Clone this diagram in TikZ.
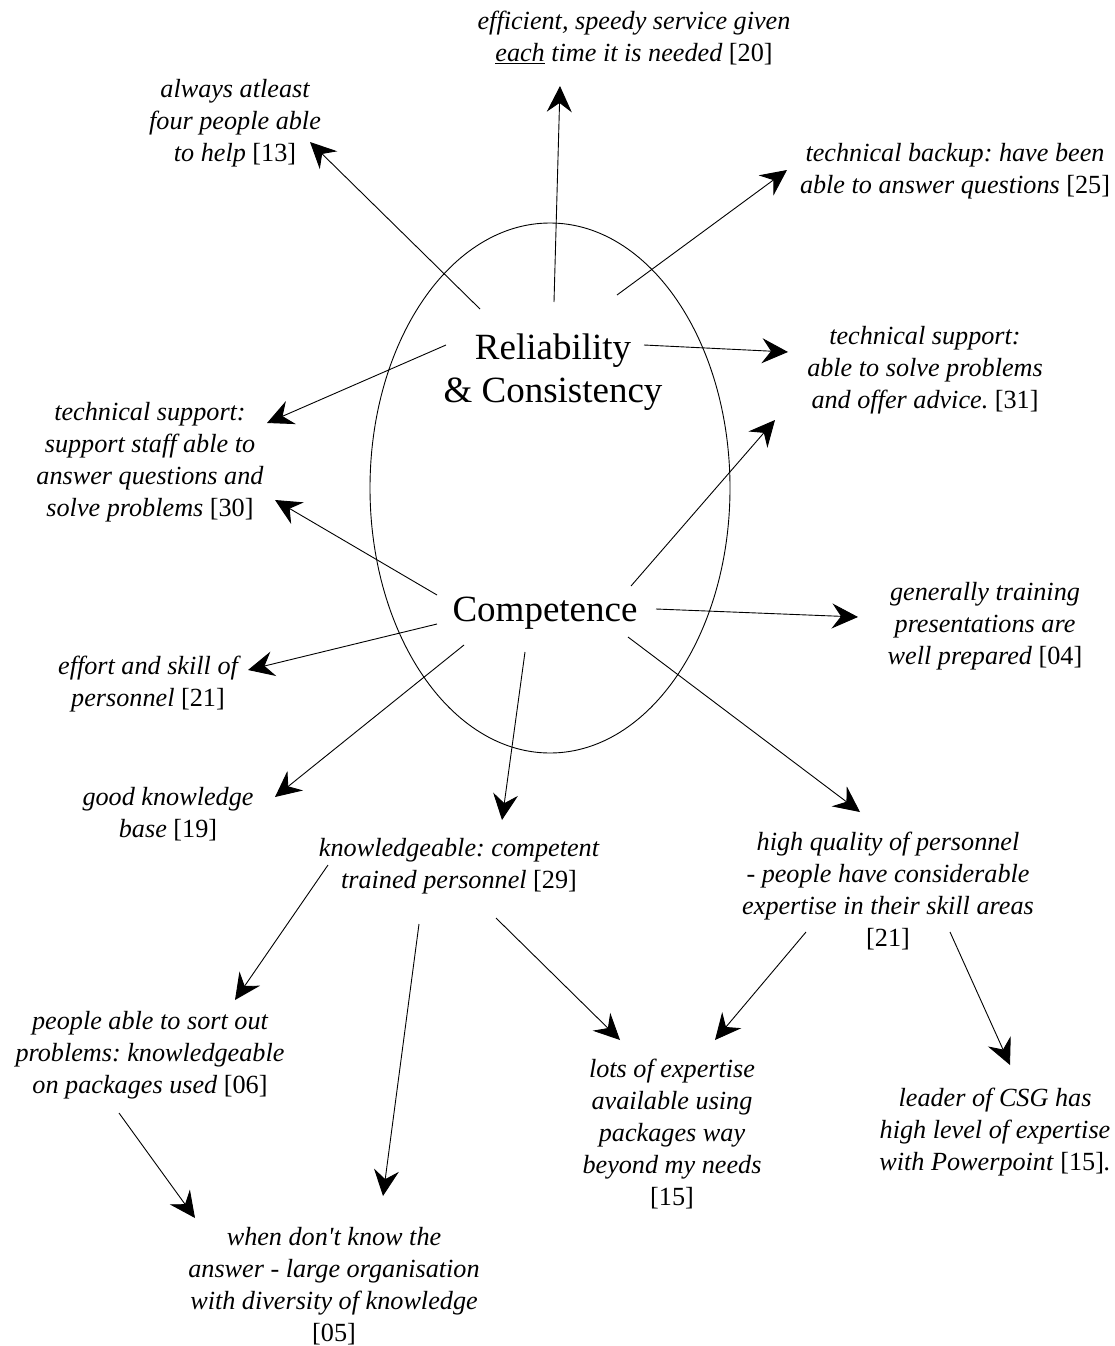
\documentclass[tikz,border=0pt]{standalone}
\usepackage{fontspec}
\setmainfont{Liberation Serif}
\usetikzlibrary{arrows.meta}
\newcommand{\srcno}[1]{\textup{[#1]}}
\frenchspacing
\begin{document}
\begin{tikzpicture}[x=1pt,y=-1pt,
  lbl/.style={align=center,inner sep=0pt,font=\fontsize{26.2}{32}\selectfont\itshape},
  core/.style={align=center,inner sep=0pt,font=\fontsize{37}{43}\selectfont},
  arr/.style={line width=0.9pt,-{Stealth[length=26pt,width=25pt,inset=9pt]}}]
\useasboundingbox (0,0) rectangle (1115,1346);

% central oval with the two core qualities
\draw[line width=0.9pt] (550,488) ellipse [x radius=180, y radius=265];
\node[core] (rel)  at (553,372) {Reliability\\\& Consistency};
\node[core] (comp) at (545,613) {Competence};

% descriptive statements
\node[lbl] (t13)  at (235,123)  {always atleast\\four people able\\to help \srcno{13}};
\node[lbl] (t20)  at (634,38)   {efficient, speedy service given\\\underline{each} time it is needed \srcno{20}};
\node[lbl] (t25)  at (955,171)  {technical backup: have been\\able to answer questions \srcno{25}};
\node[lbl] (t31)  at (925,370)  {technical support:\\able to solve problems\\and offer advice. \srcno{31}};
\node[lbl] (t30)  at (150,462)  {technical support:\\support staff able to\\answer questions and\\solve problems \srcno{30}};
\node[lbl] (t04)  at (985,626)  {generally training\\presentations are\\well prepared \srcno{04}};
\node[lbl] (t21a) at (148,684)  {effort and skill of\\personnel \srcno{21}};
\node[lbl] (t19)  at (168,814)  {good knowledge\\base \srcno{19}};
\node[lbl] (t29)  at (459,866)  {knowledgeable: competent\\trained personnel \srcno{29}};
\node[lbl] (t21b) at (888,891)  {high quality of personnel\\- people have considerable\\expertise in their skill areas\\\srcno{21}};
\node[lbl] (t06)  at (150,1055) {people able to sort out\\problems: knowledgeable\\on packages used \srcno{06}};
\node[lbl] (t05)  at (334,1286) {when don\textquotesingle t know the\\answer - large organisation\\with diversity of knowledge\\\srcno{05}};
\node[lbl] (t15a) at (672,1134) {lots of expertise\\available using\\packages way\\beyond my needs\\\srcno{15}};
\node[lbl] (t15b) at (995,1132) {leader of CSG has\\high level of expertise\\with Powerpoint \srcno{15}.};

% links from Reliability & Consistency
\draw[arr] ([shift={(-73,-63)}]rel.center)  -- ([shift={(75,19)}]t13.center);
\draw[arr] ([shift={(1,-70)}]rel.center)    -- ([shift={(-74,48)}]t20.center);
\draw[arr] ([shift={(64,-77)}]rel.center)   -- ([shift={(-168,-1)}]t25.center);
\draw[arr] ([shift={(91,-27)}]rel.center)   -- ([shift={(-137,-18)}]t31.center);
\draw[arr] ([shift={(-107,-27)}]rel.center) -- ([shift={(117,-39)}]t30.center);

% links from Competence
\draw[arr] ([shift={(-108,-18)}]comp.center) -- ([shift={(125,38)}]t30.center);
\draw[arr] ([shift={(86,-27)}]comp.center)    -- ([shift={(-150,50)}]t31.center);
\draw[arr] ([shift={(111,-4)}]comp.center)    -- ([shift={(-127,-9)}]t04.center);
\draw[arr] ([shift={(-108,11)}]comp.center)   -- ([shift={(100,-14)}]t21a.center);
\draw[arr] ([shift={(-81,32)}]comp.center)    -- ([shift={(107,-17)}]t19.center);
\draw[arr] ([shift={(-20,39)}]comp.center)    -- ([shift={(43,-46)}]t29.center);
\draw[arr] ([shift={(83,24)}]comp.center)     -- ([shift={(-28,-79)}]t21b.center);

% second-level links
\draw[arr] ([shift={(-131,-1)}]t29.center) -- ([shift={(85,-55)}]t06.center);
\draw[arr] ([shift={(-40,58)}]t29.center)  -- ([shift={(49,-90)}]t05.center);
\draw[arr] ([shift={(37,52)}]t29.center)   -- ([shift={(-52,-94)}]t15a.center);
\draw[arr] ([shift={(-82,41)}]t21b.center) -- ([shift={(43,-94)}]t15a.center);
\draw[arr] ([shift={(62,41)}]t21b.center)  -- ([shift={(15,-67)}]t15b.center);
\draw[arr] ([shift={(-31,58)}]t06.center)  -- ([shift={(-139,-68)}]t05.center);
\end{tikzpicture}
\end{document}
